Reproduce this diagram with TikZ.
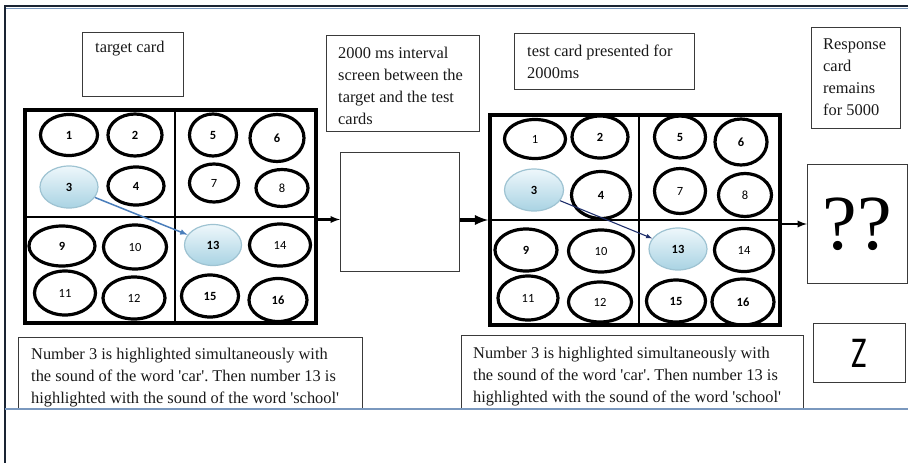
\documentclass[tikz,border=0pt]{standalone}
\usepackage{fontspec}
\setmainfont{Liberation Serif}
\newfontfamily\cellfont{Carlito}
\usepackage{tikz}
\usetikzlibrary{arrows,shapes,positioning}
\frenchspacing

\definecolor{hitop}{HTML}{EEF7FB}
\definecolor{hibot}{HTML}{A9D3E3}
\definecolor{hiedge}{HTML}{9EC3D2}
\definecolor{pairblue}{HTML}{4A7EBB}
\definecolor{pairnavy}{HTML}{1F2F6B}
\definecolor{framedark}{HTML}{1A2433}
\definecolor{frameblue}{HTML}{7A98BE}
\definecolor{boxgray}{HTML}{3A3A3A}

\tikzset{
	cell/.style={ellipse, draw=black, line width=3.2pt, inner sep=0pt,
		font=\cellfont\bfseries\fontsize{12.5}{12.5}\selectfont},
	celllight/.style={cell, font=\cellfont\fontsize{12.5}{12.5}\selectfont},
	cellhi/.style={cell, line width=1.2pt, draw=hiedge, top color=hitop, bottom color=hibot},
	cardgrid/.style={draw=black, line width=3.5pt, inner sep=0pt},
	divider/.style={black, line width=1.5pt},
	infobox/.style={draw=boxgray, line width=1pt, anchor=north west, inner sep=0pt},
	boxtext/.style={font=\fontsize{16.4}{22}\selectfont, align=left, inner sep=0pt,
		anchor=north west, text=black!90},
	steparrow/.style={-latex, black, line width=2.2pt},
	pairarrow/.style={-latex, line width=1.5pt}
}

\begin{document}
\begin{tikzpicture}[x=1pt,y=-1pt]
	\useasboundingbox (0,0) rectangle (908,463);

	% window frame
	\draw[framedark, line width=2pt] (5,463) -- (5,6) -- (908,6);
	\draw[frameblue, line width=1pt] (6,8) -- (908,8);

	% captions
	\node[infobox, minimum width=101, minimum height=64] (targetbox) at (82,32) {};
	\node[boxtext] at ([shift={(13,9)}]targetbox.north west) {target card};
	\node[infobox, minimum width=153, minimum height=96] (intervalbox) at (326,35) {};
	\node[boxtext] at ([shift={(12,12)}]intervalbox.north west)
		{2000 ms interval\\screen between the\\target and the test\\cards};
	\node[infobox, minimum width=180, minimum height=56] (testbox) at (514,33) {};
	\node[boxtext] at ([shift={(13,12)}]testbox.north west)
		{test card presented for\\2000ms};
	\node[infobox, minimum width=89, minimum height=101] (responsebox) at (811,27) {};
	\node[boxtext] at ([shift={(12,12)}]responsebox.north west)
		{Response\\card\\remains\\for 5000};

	% interval screen and response card
	\node[infobox, minimum width=119, minimum height=119] (blankbox) at (340,152) {};
	\node[infobox, minimum width=100, minimum height=119,
		font=\fontsize{78}{78}\selectfont] (querybox) at (807,164) {??};
	\node[infobox, minimum width=92, minimum height=59,
		font=\cellfont\fontsize{44}{44}\selectfont] (keybox) at (813,323) {\scalebox{0.75}[1]{Z}};

	% target card
	\node[cardgrid, minimum width=291, minimum height=213] (targetgrid) at (170.5,216.5) {};
	\draw[divider] (175,110) -- (175,323);
	\draw[divider] (25,217) -- (316,217);
	\foreach \n/\x/\y/\w/\h/\s in {1/69/135/57/41/cell, 2/135/135/54/42/cell,
		5/213/135/47/42/cell, 6/277/138/54/47/cell, 3/69/187/58/42/cellhi,
		4/136/186/56/38/cell, 7/214/183/49/38/celllight, 8/282/188/52/37/celllight,
		9/62/246/66/40/cell, 10/135/247/63/44/celllight, 13/213/245/57/41/cellhi,
		14/280/245/61/42/celllight, 11/65/293/61/44/celllight, 12/134/298/62/42/celllight,
		15/210/296/57/42/cell, 16/278/300/58/43/cell}
		\node[style=\s, minimum width=\w, minimum height=\h] (t\n) at (\x,\y) {\n};
	\draw[pairarrow, pairblue] (t3) -- (t13);

	% test card
	\node[cardgrid, minimum width=290, minimum height=210] (testgrid) at (635,220) {};
	\draw[divider] (639,115) -- (639,325);
	\draw[divider] (490,220) -- (780,220);
	\foreach \n/\x/\y/\w/\h/\s in {1/535/139/61/39/celllight, 2/600/137/56/42/cell,
		5/680/137/51/42/cell, 6/741/142/52/46/cell, 3/534/190/59/42/cellhi,
		4/601/195/59/47/cell, 7/680/191/51/45/celllight, 8/745/195/53/43/celllight,
		9/526/250/62/42/cell, 10/601/251/65/42/celllight, 13/678/249/58/42/cellhi,
		14/744/250/59/43/celllight, 11/528/298/60/44/celllight, 12/600/302/63/40/celllight,
		15/676/301/59/42/cell, 16/743/302/62/46/cell}
		\node[style=\s, minimum width=\w, minimum height=\h] (s\n) at (\x,\y) {\n};
	\draw[pairarrow, pairnavy, line width=1.1pt] (s3) -- (s13);

	% sequence arrows
	\draw[steparrow] ([yshift=-3pt]targetgrid.east) -- ([yshift=-3pt]targetgrid.east -| blankbox.west);
	\draw[steparrow, line width=3.5pt] (blankbox.east |- testgrid.west) -- (testgrid.west);
	\draw[steparrow] (testgrid.east |- querybox.west) -- (querybox.west);

	% descriptions
	\node[infobox, minimum width=344, minimum height=72] (targetnote) at (18,337) {};
	\node[boxtext] at ([shift={(13,11)}]targetnote.north west)
		{Number 3 is highlighted simultaneously with\\the sound of the word \textquotesingle car\textquotesingle. Then number 13 is\\highlighted with the sound of the word \textquotesingle school\textquotesingle};
	\node[infobox, minimum width=342, minimum height=74] (testnote) at (461,335) {};
	\node[boxtext] at ([shift={(12,12)}]testnote.north west)
		{Number 3 is highlighted simultaneously with\\the sound of the word \textquotesingle car\textquotesingle. Then number 13 is\\highlighted with the sound of the word \textquotesingle school\textquotesingle};

	\draw[frameblue, line width=1.2pt] (5,409) -- (908,409);
\end{tikzpicture}
\end{document}
